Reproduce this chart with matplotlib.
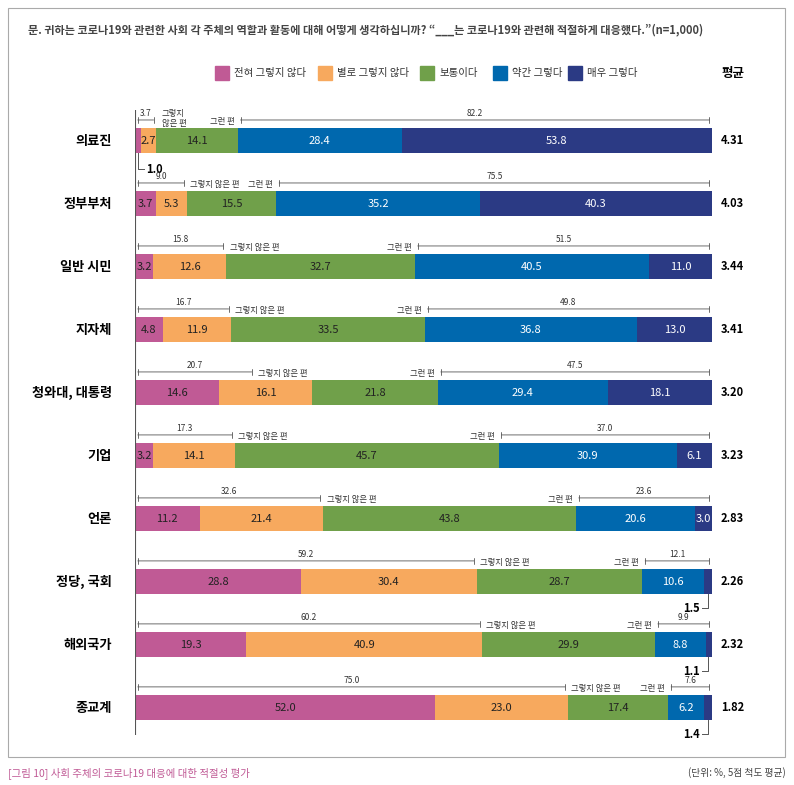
import matplotlib.pyplot as plt
from matplotlib.patches import Rectangle

plt.rcParams['font.family'] = ['Noto Sans CJK KR', 'DejaVu Sans']

groups = ['의료진', '정부부처', '일반 시민', '지자체', '청와대, 대통령', '기업', '언론', '정당, 국회', '해외국가', '종교계']
not_at_all = [1.0, 3.7, 3.2, 4.8, 14.6, 3.2, 11.2, 28.8, 19.3, 52.0]
not_really = [2.7, 5.3, 12.6, 11.9, 16.1, 14.1, 21.4, 30.4, 40.9, 23.0]
neutral = [14.1, 15.5, 32.7, 33.5, 21.8, 45.7, 43.8, 28.7, 29.9, 17.4]
somewhat = [28.4, 35.2, 40.5, 36.8, 29.4, 30.9, 20.6, 10.6, 8.8, 6.2]
very = [53.8, 40.3, 11.0, 13.0, 18.1, 6.1, 3.0, 1.5, 1.1, 1.4]
neg_sum = [3.7, 9.0, 15.8, 16.7, 20.7, 17.3, 32.6, 59.2, 60.2, 75.0]
pos_sum = [82.2, 75.5, 51.5, 49.8, 47.5, 37.0, 23.6, 12.1, 9.9, 7.6]
means = ['4.31', '4.03', '3.44', '3.41', '3.20', '3.23', '2.83', '2.26', '2.32', '1.82']
labels = ['전혀 그렇지 않다', '별로 그렇지 않다', '보통이다', '약간 그렇다', '매우 그렇다']
colors = ['#C05A95', '#F7A95E', '#70A04A', '#0068AE', '#2B3A84']
txt_colors = ['#222222', '#222222', '#222222', 'white', 'white']

fig = plt.figure(figsize=(7.94, 7.85), dpi=100)
ax = fig.add_axes([0.170, 0.064, 0.727, 0.796])
ax.set_xlim(0, 100)
ax.set_ylim(9.43, -0.49)
ax.axis('off')
ax.axvline(0, color='#555555', lw=0.8)

series = [not_at_all, not_really, neutral, somewhat, very]
for i in range(len(groups)):
    left = 0
    for k, s in enumerate(series):
        v = s[i]
        ax.barh(i, v, left=left, height=0.4, color=colors[k])
        small = (k == 0 and i == 0) or (k == 4 and i >= 7)
        if not small:
            ax.text(left + v / 2, i, f'{v:.1f}', ha='center', va='center',
                    fontsize=8, color=txt_colors[k])
        left += v
    if i == 0:
        ax.plot([0.5, 0.5, 1.6], [i + 0.2, i + 0.45, i + 0.45], color='#555555', lw=0.7)
        ax.text(2.0, i + 0.45, '1.0', ha='left', va='center', fontsize=8, fontweight='bold')
    if i >= 7:
        ax.plot([99.3, 99.3, 98.3], [i + 0.2, i + 0.42, i + 0.42], color='#555555', lw=0.7)
        ax.text(97.9, i + 0.42, f'{very[i]:.1f}', ha='right', va='center', fontsize=8, fontweight='bold')
    # brackets
    yb = i - 0.33
    ax.annotate('', xy=(0, yb), xytext=(neg_sum[i], yb),
                arrowprops=dict(arrowstyle='|-|', lw=0.6, color='#555555', mutation_scale=2))
    ax.text(neg_sum[i] / 2, yb - 0.03, f'{neg_sum[i]:.1f}', ha='center', va='bottom', fontsize=6, color='#333333')
    ps = 100 - pos_sum[i]
    ax.annotate('', xy=(ps, yb), xytext=(100, yb),
                arrowprops=dict(arrowstyle='|-|', lw=0.6, color='#555555', mutation_scale=2))
    ax.text((ps + 100) / 2, yb - 0.03, f'{pos_sum[i]:.1f}', ha='center', va='bottom', fontsize=6, color='#333333')
    ax.text(ps - 0.6, yb + 0.02, '그런 편', ha='right', va='center', fontsize=6, color='#333333')
    if i == 0:
        ax.text(neg_sum[i] + 0.9, yb - 0.02, '그렇지\n않은 편', ha='left', va='center', fontsize=6,
                color='#333333', linespacing=1.2)
    else:
        ax.text(neg_sum[i] + 0.6, yb + 0.02, '그렇지 않은 편', ha='left', va='center', fontsize=6, color='#333333')
    ax.text(-4, i, groups[i], ha='right', va='center', fontsize=9.5, fontweight='bold')
    ax.text(103.5, i, means[i], ha='center', va='center', fontsize=8, fontweight='bold')

# legend
lx = [215, 318, 420, 493, 568]
for k in range(5):
    fig.patches.append(Rectangle((lx[k] / 794, 1 - 80 / 785), 14 / 794, 14 / 785,
                                 transform=fig.transFigure, color=colors[k]))
    fig.text((lx[k] + 19) / 794, 1 - 73 / 785, labels[k], fontsize=7.5, va='center', color='#333333')
fig.text(733 / 794, 1 - 73 / 785, '평균', fontsize=9, fontweight='bold', ha='center', va='center')

fig.text(28 / 794, 1 - 30 / 785,
         '문. 귀하는 코로나19와 관련한 사회 각 주체의 역할과 활동에 대해 어떻게 생각하십니까? “___는 코로나19와 관련해 적절하게 대응했다.”(n=1,000)',
         fontsize=8, fontweight='bold', color='#444444', va='center')
fig.patches.append(Rectangle((8 / 794, 1 - 757 / 785), 777 / 794, 749 / 785, transform=fig.transFigure,
                             fill=False, edgecolor='#aaaaaa', lw=0.8))
fig.text(8 / 794, 1 - 773 / 785, '[그림 10] 사회 주체의 코로나19 대응에 대한 적절성 평가', fontsize=7.5,
         color='#C05A95', va='center')
fig.text(786 / 794, 1 - 773 / 785, '(단위: %, 5점 척도 평균)', fontsize=7, color='#444444', va='center', ha='right')

fig.savefig('out.png', dpi=100)
